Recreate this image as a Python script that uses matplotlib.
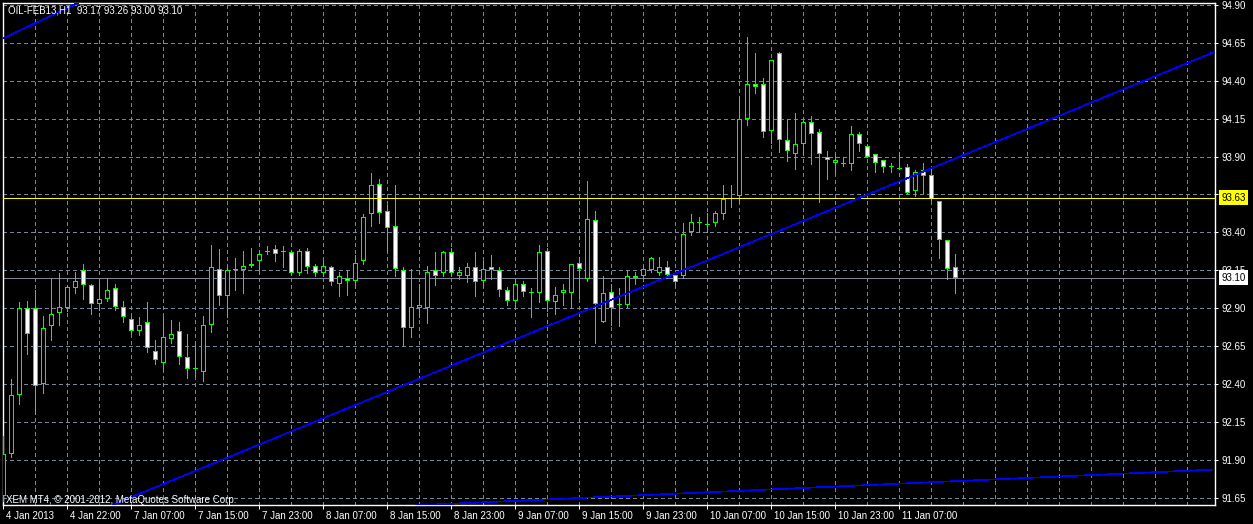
import numpy as np
import matplotlib
matplotlib.use("Agg")
import matplotlib.pyplot as plt
import matplotlib.transforms as mtrans

# OIL-FEB13 H1 bars, first bar 4 Jan 2013, last bar 11 Jan 14:00
opens = [91.66, 91.94, 92.33, 92.90, 92.90, 92.40, 92.78, 92.87, 92.90, 93.03,
         93.15, 93.05, 92.93, 92.96, 93.03, 92.91, 92.83, 92.75, 92.81, 92.62,
         92.54, 92.70, 92.75, 92.58, 92.50, 92.48, 92.79, 93.16, 92.98, 93.15,
         93.15, 93.18, 93.21, 93.27, 93.29, 93.27, 93.27, 93.13, 93.28, 93.18,
         93.13, 93.17, 93.06, 93.10, 93.08, 93.21, 93.52, 93.72, 93.54, 93.44,
         93.15, 92.77, 92.90, 92.90, 93.15, 93.13, 93.27, 93.11, 93.11, 93.17,
         93.08, 93.17, 93.15, 93.02, 92.95, 93.06, 93.00, 93.00, 93.28, 92.94,
         93.00, 93.00, 93.20, 93.09, 93.48, 92.81, 93.01, 92.92, 92.92, 93.10,
         93.11, 93.15, 93.13, 93.17, 93.12, 93.11, 93.40, 93.46, 93.45, 93.46,
         93.52, 93.62, 93.64, 94.15, 94.38, 94.38, 94.07, 94.58, 94.01, 93.92,
         93.98, 94.13, 94.06, 93.90, 93.86, 93.86, 93.85, 94.05, 93.97, 93.92,
         93.88, 93.83, 93.82, 93.83, 93.67, 93.81, 93.78, 93.61, 93.35, 93.17]
highs = [92.06, 92.43, 92.94, 92.95, 93.02, 92.85, 93.09, 93.13, 93.05, 93.14,
         93.19, 93.06, 93.07, 93.10, 93.06, 92.95, 92.84, 92.84, 92.94, 92.69,
         92.85, 92.82, 92.81, 92.73, 92.67, 92.85, 93.32, 93.29, 93.17, 93.23,
         93.28, 93.30, 93.27, 93.31, 93.32, 93.31, 93.28, 93.29, 93.30, 93.19,
         93.22, 93.18, 93.14, 93.15, 93.25, 93.52, 93.79, 93.75, 93.58, 93.71,
         93.17, 93.16, 93.06, 93.18, 93.27, 93.28, 93.30, 93.17, 93.20, 93.27,
         93.21, 93.25, 93.17, 93.04, 93.09, 93.08, 93.03, 93.32, 93.30, 93.04,
         93.06, 93.19, 93.24, 93.74, 93.54, 93.11, 93.06, 93.03, 93.15, 93.14,
         93.18, 93.24, 93.24, 93.21, 93.13, 93.46, 93.52, 93.50, 93.53, 93.54,
         93.71, 93.71, 94.29, 94.69, 94.58, 94.42, 94.54, 94.59, 94.15, 94.19,
         94.14, 94.17, 94.08, 93.94, 93.92, 93.90, 94.10, 94.06, 93.98, 93.92,
         93.88, 93.86, 93.93, 93.85, 93.81, 93.86, 93.82, 93.61, 93.35, 93.26]
lows = [91.63, 91.92, 92.27, 92.60, 92.20, 92.34, 92.69, 92.79, 92.88, 93.00,
        92.96, 92.86, 92.89, 92.95, 92.89, 92.81, 92.73, 92.72, 92.61, 92.53,
        92.49, 92.67, 92.53, 92.44, 92.45, 92.42, 92.74, 92.92, 92.84, 93.02,
        93.00, 93.17, 93.15, 93.26, 93.21, 93.17, 93.12, 93.12, 93.13, 93.11,
        93.11, 93.05, 92.98, 92.99, 93.03, 93.19, 93.44, 93.46, 93.28, 93.11,
        92.65, 92.71, 92.84, 92.80, 93.05, 93.11, 93.11, 93.09, 93.07, 92.98,
        93.04, 93.09, 92.98, 92.92, 92.90, 92.98, 92.84, 92.94, 92.88, 92.86,
        92.92, 92.90, 92.97, 93.08, 92.67, 92.81, 92.79, 92.78, 92.91, 93.06,
        93.10, 93.14, 93.12, 93.10, 93.06, 93.10, 93.38, 93.40, 93.40, 93.44,
        93.49, 93.57, 93.60, 94.11, 94.32, 94.03, 93.99, 93.93, 93.87, 93.82,
        93.91, 93.85, 93.60, 93.75, 93.79, 93.84, 93.81, 93.94, 93.90, 93.80,
        93.80, 93.80, 93.82, 93.65, 93.64, 93.66, 93.61, 93.23, 93.09, 93.00]
closes = [91.94, 92.33, 92.90, 92.73, 92.39, 92.77, 92.86, 92.91, 93.04, 93.08,
          93.05, 92.93, 92.96, 93.02, 92.91, 92.84, 92.75, 92.79, 92.64, 92.56,
          92.71, 92.73, 92.58, 92.50, 92.50, 92.79, 93.17, 92.98, 93.15, 93.16,
          93.18, 93.19, 93.26, 93.27, 93.26, 93.27, 93.13, 93.28, 93.17, 93.13,
          93.18, 93.07, 93.11, 93.08, 93.20, 93.50, 93.71, 93.53, 93.43, 93.16,
          92.77, 92.91, 92.92, 93.14, 93.11, 93.27, 93.13, 93.14, 93.17, 93.07,
          93.16, 93.15, 93.02, 92.95, 93.06, 93.01, 93.01, 93.27, 92.95, 92.99,
          93.02, 93.19, 93.16, 93.49, 92.93, 93.00, 92.90, 92.92, 93.11, 93.11,
          93.16, 93.23, 93.17, 93.12, 93.07, 93.39, 93.47, 93.46, 93.45, 93.53,
          93.62, 93.63, 94.15, 94.38, 94.36, 94.06, 94.54, 94.01, 93.94, 93.98,
          94.13, 94.05, 93.92, 93.88, 93.88, 93.85, 94.05, 93.98, 93.90, 93.86,
          93.83, 93.83, 93.82, 93.66, 93.80, 93.77, 93.62, 93.35, 93.16, 93.10]

time_label_bars = [0, 8, 16, 24, 32, 40, 48, 56, 64, 72, 80, 88, 96, 104, 112]
time_labels = ["4 Jan 2013", "4 Jan 22:00", "7 Jan 07:00", "7 Jan 15:00", "7 Jan 23:00",
               "8 Jan 07:00", "8 Jan 15:00", "8 Jan 23:00", "9 Jan 07:00", "9 Jan 15:00",
               "9 Jan 23:00", "10 Jan 07:00", "10 Jan 15:00", "10 Jan 23:00", "11 Jan 07:00"]
price_ticks = [91.65, 91.90, 92.15, 92.40, 92.65, 92.90, 93.15, 93.40, 93.65,
               93.90, 94.15, 94.40, 94.65, 94.90]

# trend lines: two anchor points each (bar index, price)
trend_main = ([14, 150], [91.61, 94.56])
trend_top = ([0, 10], [94.68, 94.93])
trend_low = ([77, 151], [91.66, 91.835])
hline_price = 93.63
bid_price = 93.10

LIME = "#00ff00"
GRID = "#778899"
FONT = "Liberation Sans"
FS = 7
PX = 0.72  # one pixel in points

fig = plt.figure(figsize=(12.53, 5.24), dpi=100, facecolor="black")
ax = fig.add_axes([2.7 / 1253, 19 / 524, 1212.3 / 1253, 502.3 / 524])
ax.set_facecolor("black")
xmin, xmax = -0.08, 151.46
ymin, ymax = 91.602, 94.915
ax.set_xlim(xmin, xmax)
ax.set_ylim(ymin, ymax)
ppx = (ymax - ymin) / 502.3  # price per pixel

# grid
ax.set_yticks(price_ticks)
ax.set_yticklabels(["%.2f" % p for p in price_ticks])
ax.set_xticks(time_label_bars)
ax.set_xticklabels(time_labels)
ax.set_xticks(np.arange(4, 152, 4), minor=True)
ax.grid(True, which="both", color=GRID, linestyle=(0, (4, 3)), linewidth=PX, antialiased=False)
ax.set_axisbelow(True)

ax.yaxis.tick_right()
ax.tick_params(axis="y", colors="white", length=2, width=PX, pad=2.5, labelsize=FS)
ax.tick_params(axis="x", colors="white", length=3, width=PX, pad=1, labelsize=FS)
ax.tick_params(axis="x", which="minor", length=0)
for lbl in ax.get_xticklabels() + ax.get_yticklabels():
    lbl.set_fontfamily(FONT)
offset = mtrans.ScaledTranslation(2.5 / 100, 0, fig.dpi_scale_trans)
for lbl in ax.get_xticklabels():
    lbl.set_ha("left")
    lbl.set_transform(lbl.get_transform() + offset)
for sp in ax.spines.values():
    sp.set_color("white")
    sp.set_linewidth(1)

# bid line (behind candles)
ax.axhline(bid_price, color=GRID, linewidth=PX, zorder=2, antialiased=False)

# candles: wick, lime outer body, then white (bear) / black (bull) inner body
x = np.arange(len(opens))
o = np.array(opens)
h = np.array(highs)
l = np.array(lows)
c = np.array(closes)
bull = c >= o
top = np.maximum(o, c)
bot = np.minimum(o, c)
ax.vlines(x, l, h, color=LIME, linewidth=PX, zorder=3, antialiased=False)
ax.bar(x, np.maximum(top - bot, ppx), bottom=bot, width=5 / 8, color=LIME,
       linewidth=0, zorder=4, antialiased=False)
inner_h = np.maximum(top - bot - 2 * ppx, 0)
ax.bar(x[bull], inner_h[bull], bottom=bot[bull] + ppx, width=3 / 8, color="black",
       linewidth=0, zorder=5, antialiased=False)
ax.bar(x[~bull], inner_h[~bull], bottom=bot[~bull] + ppx, width=3 / 8, color="white",
       linewidth=0, zorder=5, antialiased=False)

# objects
ax.axhline(hline_price, color="yellow", linewidth=PX, zorder=6, antialiased=False)
for (tx, ty) in (trend_main, trend_top, trend_low):
    slope = (ty[1] - ty[0]) / (tx[1] - tx[0])
    xs = np.array([xmin, xmax])
    ax.plot(xs, ty[0] + slope * (xs - tx[0]), color="#0000ff", linewidth=0.5,
            zorder=6, antialiased=False)

# price boxes on the right scale
for price, fc in ((hline_price, "yellow"), (bid_price, "white")):
    ax.annotate("%.2f" % price, xy=(1.0, price), xycoords=("axes fraction", "data"),
                xytext=(4.5, 0), textcoords="offset points", va="center", ha="left",
                fontsize=FS, family=FONT, color="black", annotation_clip=False,
                bbox=dict(boxstyle="square,pad=0.25", fc=fc, ec="none"), zorder=10)

fig.text(7.5 / 1253, 1 - 13.5 / 524, "OIL-FEB13,H1  93.17 93.26 93.00 93.10",
         color="white", fontsize=FS, family=FONT, va="baseline")
fig.text(5.5 / 1253, 1 - 503 / 524, "XEM MT4, \u00a9 2001-2012, MetaQuotes Software Corp.",
         color="white", fontsize=FS, family=FONT, va="baseline", zorder=10)

fig.savefig("out.png", dpi=100, facecolor="black")
